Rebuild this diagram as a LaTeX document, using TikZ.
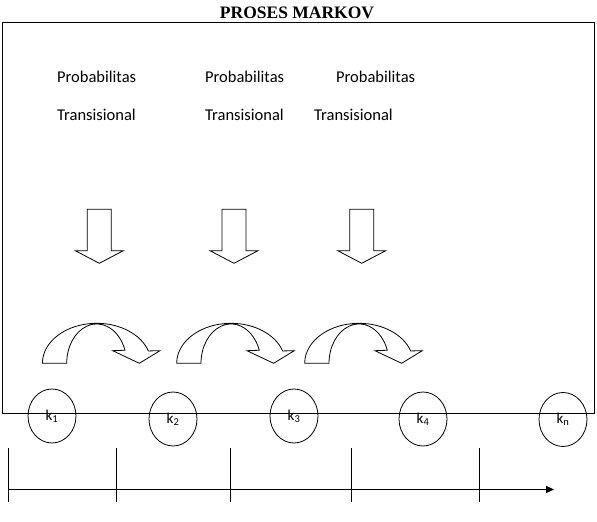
\documentclass[tikz,border=0pt]{standalone}
\usepackage{fontspec}
\setmainfont{Carlito}
\newfontfamily\titlefont{Liberation Serif}
\usetikzlibrary{positioning, arrows.meta, shapes}
\tikzset{
  state/.style={
    draw, ellipse, line width=0.8pt,
    minimum width=48pt, minimum height=54pt,
    inner sep=0pt, font=\fontsize{15}{17}\selectfont
  },
  lbl/.style={anchor=west, inner sep=0pt, font=\fontsize{16.5}{19}\selectfont},
  blkarr/.style={draw, line width=0.8pt, fill=white, line join=miter},
  tickln/.style={line width=0.9pt},
  timearr/.style={-{Triangle[length=8pt, width=7pt]}, line width=0.9pt},
}

\begin{document}
\begin{tikzpicture}[x=1pt, y=1pt]
        \useasboundingbox (0,0) rectangle (597,522);
        \node[font=\titlefont\bfseries\fontsize{17.5}{20}\selectfont] (title) at (297,508.7) {PROSES MARKOV};
        \draw[line width=0.9pt] (2,500) rectangle (594,109);
        \node[lbl] (p1) at (57,445) {Probabilitas};
        \node[lbl] (p2) at (205,445) {Probabilitas};
        \node[lbl] (p3) at (336,445) {Probabilitas};
        \node[lbl] (t1) at (57,407) {Transisional};
        \node[lbl] (t2) at (205,407) {Transisional};
        \node[lbl] (t3) at (314,407) {Transisional};
        \foreach \cx in {99.3, 234, 361.7}{
          \draw[blkarr] (\cx-12,312.7) -- (\cx+12,312.7) -- (\cx+12,271.3) -- (\cx+24,271.3)
            -- (\cx,258.7) -- (\cx-24,271.3) -- (\cx-12,271.3) -- cycle;
        }
        \foreach \cx in {96.7, 231, 359}{
          \draw[blkarr] (\cx-54.3,158.7) arc[start angle=180, end angle=18, x radius=54.3pt, y radius=40pt]
            -- (\cx+63.3,171.3) -- (\cx+42.6,158.7) -- (\cx+16,171.3) -- (\cx+28.3,171.75)
            arc[start angle=19.4, end angle=180, x radius=30pt, y radius=39.3pt] -- cycle;
        }
        \foreach \nm/\cx/\cy in {1/52/106, 2/173/103, 3/294/106, 4/423/103, n/563/102.5}{
          \node[state] (k\nm) at (\cx,\cy) {k\textsubscript{\nm}};
        }
        \foreach \tx in {8.4, 116, 230, 351, 479}{
          \draw[tickln] (\tx,74) -- (\tx,20);
        }
        \coordinate (tstart) at (8.4,32.5);
        \coordinate (tend) at (554,32.5);
        \draw[timearr] (tstart) -- (tend);
      \end{tikzpicture}
\end{document}
